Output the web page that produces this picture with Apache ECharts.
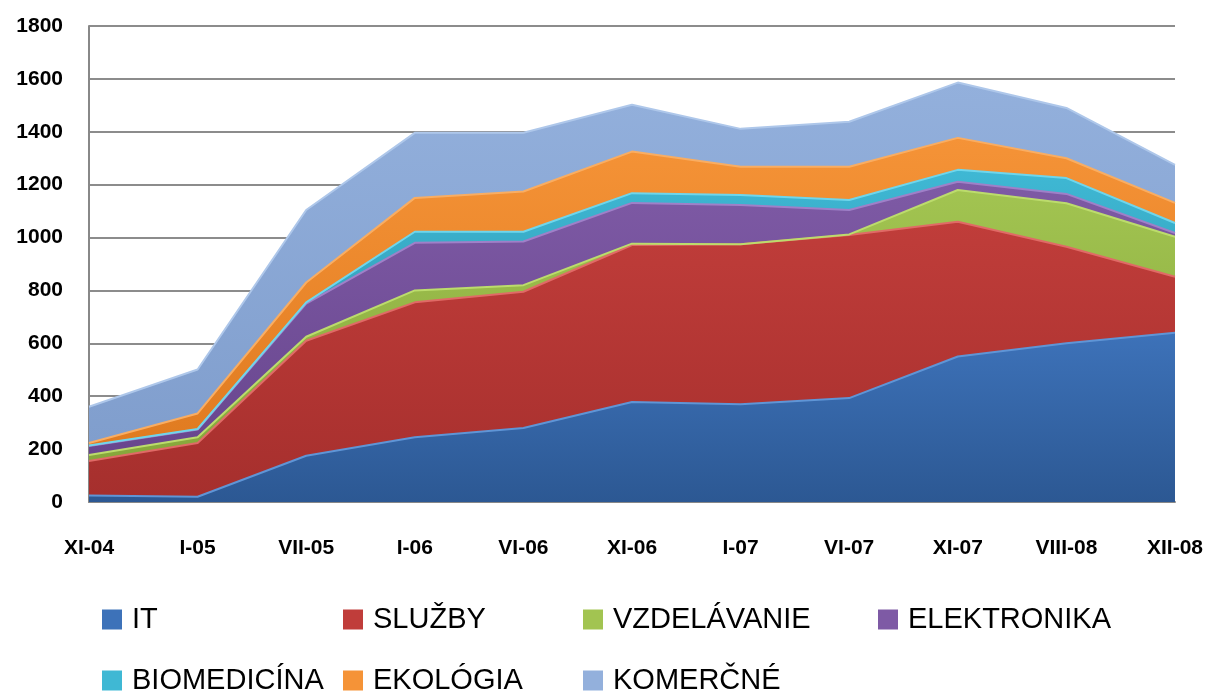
<!DOCTYPE html>
<html>
<head>
<meta charset="utf-8">
<title>Stacked area</title>
<script src="https://cdn.jsdelivr.net/npm/echarts@6/dist/echarts.min.js"></script>
<style>
  html, body { margin: 0; padding: 0; background: #fff; }
  #chart { width: 1209px; height: 694px; }
</style>
</head>
<body>
<div id="chart"></div>
<script>
// kategórie (obdobia)
const categories = ['XI-04', 'I-05', 'VII-05', 'I-06', 'VI-06', 'XI-06', 'I-07', 'VI-07', 'XI-07', 'VIII-08', 'XII-08'];

// hodnoty jednotlivých sérií (skladané)
const it          = [25, 20, 175, 245, 280, 378, 370, 393, 550, 600, 640];
const sluzby      = [130, 203, 435, 510, 515, 594, 605, 617, 510, 365, 212];
const vzdelavanie = [23, 22, 15, 45, 25, 5, 0, 2, 120, 165, 151];
const elektronika = [34, 29, 125, 180, 165, 154, 148, 92, 31, 35, 14];
const biomedicina = [2, 2, 5, 42, 37, 37, 38, 38, 45, 60, 38];
const ekologia    = [9, 59, 75, 128, 152, 157, 107, 126, 121, 75, 76];
const komercne    = [137, 166, 274, 246, 222, 177, 143, 170, 209, 190, 144];

const seriesNames = ['IT', 'SLUŽBY', 'VZDELÁVANIE', 'ELEKTRONIKA', 'BIOMEDICÍNA', 'EKOLÓGIA', 'KOMERČNÉ'];
const seriesData = [it, sluzby, vzdelavanie, elektronika, biomedicina, ekologia, komercne];

// farby: [vrch, spodok, okraj]
const colors = [
  ['#3d72b9', '#2c5893', '#5f95d6'],
  ['#c03d3a', '#a62f2d', '#e06a66'],
  ['#a2c451', '#86a73b', '#bcdc6c'],
  ['#7e5aa5', '#68468e', '#9f80c8'],
  ['#3fb8d4', '#2a8fa8', '#6fd6ec'],
  ['#f59337', '#e07b20', '#f9ad62'],
  ['#93b0dc', '#809ecd', '#aec7ea'],
];

// pozície legendy
const legendPos = [
  [97, 600], [338, 600], [578, 600], [873, 600],
  [97, 661], [338, 661], [578, 661],
];

const chart = echarts.init(document.getElementById('chart'));

const option = {
  animation: false,
  textStyle: { fontFamily: 'Liberation Sans' },
  grid: {
    left: 89,
    right: 34,
    top: 26,
    bottom: 192,
  },
  legend: seriesNames.map((name, i) => ({
    data: [name],
    left: legendPos[i][0],
    top: legendPos[i][1],
    icon: 'rect',
    itemWidth: 20,
    itemHeight: 20,
    itemGap: 0,
    textStyle: {
      fontFamily: 'Liberation Sans',
      fontSize: 29,
      color: '#000',
      padding: [0, 0, 0, 5],
    },
  })),
  xAxis: {
    type: 'category',
    boundaryGap: false,
    data: categories,
    axisLine: { show: true, lineStyle: { color: '#888', width: 2 } },
    axisTick: { show: false },
    axisLabel: {
      color: '#000',
      fontWeight: 'bold',
      fontSize: 21,
      margin: 36,
    },
  },
  yAxis: {
    type: 'value',
    min: 0,
    max: 1800,
    interval: 200,
    axisLine: { show: true, lineStyle: { color: '#888', width: 2 } },
    axisTick: { show: false },
    splitLine: { lineStyle: { color: '#8c8c8c', width: 2 } },
    axisLabel: {
      color: '#000',
      fontWeight: 'bold',
      fontSize: 21,
      margin: 26,
      formatter: v => String(v),
    },
  },
  series: seriesNames.map((name, i) => ({
    name: name,
    type: 'line',
    stack: 'total',
    symbol: 'none',
    data: seriesData[i],
    lineStyle: { color: colors[i][2], width: 2 },
    itemStyle: { color: colors[i][0] },
    areaStyle: {
      opacity: 1,
      color: new echarts.graphic.LinearGradient(0, 0, 0, 1, [
        { offset: 0, color: colors[i][0] },
        { offset: 1, color: colors[i][1] },
      ]),
    },
  })),
};

chart.setOption(option);
</script>
</body>
</html>
